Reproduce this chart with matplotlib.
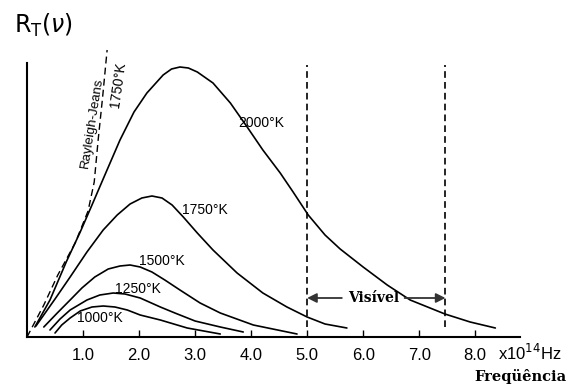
import matplotlib
matplotlib.use('Agg')
import matplotlib.pyplot as plt

# curvas de corpo negro, x em 10^14 Hz, y em unidades arbitrarias
x_2000 = [0.14, 0.41, 0.70, 0.95, 1.16, 1.39, 1.66, 1.91, 2.14, 2.43, 2.58, 2.73, 2.88, 3.04, 3.32, 3.63, 3.93,
          4.21, 4.52, 4.75, 5.02, 5.32, 5.59, 6.00, 6.43, 6.84, 7.46, 7.91, 8.36]
y_2000 = [1.0, 3.7, 7.5, 10.5, 13.2, 16.2, 19.7, 22.5, 24.4, 26.2, 26.8, 27.0, 26.9, 26.5, 25.4, 23.4, 21.0,
          18.7, 16.4, 14.5, 12.2, 10.2, 8.8, 7.0, 5.2, 3.7, 2.3, 1.5, 0.9]

x_1750 = [0.16, 0.50, 0.77, 1.07, 1.36, 1.61, 1.84, 2.05, 2.23, 2.41, 2.59, 2.79, 3.04, 3.32,
          3.75, 4.21, 4.64, 5.00, 5.32, 5.71]
y_1750 = [1.1, 3.8, 6.0, 8.5, 10.7, 12.2, 13.3, 13.9, 14.1, 13.9, 13.2, 12.0, 10.4, 8.7,
          6.4, 4.4, 3.0, 2.0, 1.3, 0.9]

x_1500 = [0.30, 0.54, 0.77, 0.98, 1.21, 1.45, 1.66, 1.84, 2.02, 2.23, 2.46, 2.73, 3.09, 3.45, 4.04, 4.82]
y_1500 = [1.0, 2.4, 3.7, 4.9, 6.0, 6.8, 7.1, 7.2, 7.0, 6.5, 5.7, 4.7, 3.4, 2.4, 1.2, 0.3]

x_1250 = [0.41, 0.59, 0.77, 1.07, 1.30, 1.54, 1.75, 2.02, 2.38, 2.64, 3.00, 3.45, 3.86]
y_1250 = [0.7, 1.8, 2.7, 3.7, 4.2, 4.4, 4.3, 3.9, 3.0, 2.4, 1.6, 1.0, 0.5]

x_1000 = [0.50, 0.62, 0.77, 0.95, 1.16, 1.36, 1.57, 1.79, 2.02, 2.38, 2.86, 3.45]
y_1000 = [0.4, 1.2, 1.9, 2.6, 3.0, 3.1, 3.0, 2.7, 2.2, 1.7, 0.9, 0.3]

# Rayleigh-Jeans (1750 K)
x_rj = [0.0, 0.30, 0.55, 0.86, 1.09, 1.20, 1.27, 1.35, 1.43]
y_rj = [0.0, 3.2, 6.2, 9.4, 12.6, 15.5, 19.7, 24.0, 28.7]

vis_min, vis_max = 5.0, 7.47
xticks = [1, 2, 3, 4, 5, 6, 7, 8]
xtick_labels = ['1.0', '2.0', '3.0', '4.0', '5.0', '6.0', '7.0', '8.0']

narrow = ['Liberation Sans Narrow', 'Liberation Sans', 'DejaVu Sans']

fig = plt.figure(figsize=(5.68, 3.85), dpi=100, facecolor='white')
ax = fig.add_axes([27 / 568, 48 / 385, 493 / 568, 274 / 385])
ax.set_xlim(0, 8.8)
ax.set_ylim(0, 27.4)

lw = 1.2
for xs, ys in [(x_2000, y_2000), (x_1750, y_1750), (x_1500, y_1500), (x_1250, y_1250), (x_1000, y_1000)]:
    ax.plot(xs, ys, color='black', lw=lw, solid_capstyle='round', solid_joinstyle='round', clip_on=False)

ax.plot(x_rj, y_rj, color='black', lw=1.0, linestyle=(0, (5, 3)), clip_on=False)

# faixa visivel
for xv in [vis_min, vis_max]:
    ax.plot([xv, xv], [1.0, 27.2], color='black', lw=1.2, linestyle=(0, (4, 2.5)))

ax.annotate('', xy=(vis_min, 3.9), xytext=(5.62, 3.9),
            arrowprops=dict(arrowstyle='-|>', color='#333333', lw=1.3, mutation_scale=14, shrinkA=0, shrinkB=0))
ax.annotate('', xy=(vis_max, 3.9), xytext=(6.74, 3.9),
            arrowprops=dict(arrowstyle='-|>', color='#333333', lw=1.3, mutation_scale=14, shrinkA=0, shrinkB=0))
ax.text(6.18, 3.9, 'Visível', fontsize=10, fontweight='bold', family='DejaVu Serif',
        ha='center', va='center')

# rotulos das curvas
lab = dict(fontsize=10, family=narrow, ha='center', va='center')
ax.text(4.18, 21.4, '2000°K', **lab)
ax.text(3.18, 12.7, '1750°K', **lab)
ax.text(2.40, 7.6, '1500°K', **lab)
ax.text(1.98, 4.8, '1250°K', **lab)
ax.text(1.30, 1.9, '1000°K', **lab)
ax.text(1.17, 21.4, 'Rayleigh-Jeans', rotation=81, fontsize=9.5, family=narrow, ha='center', va='center')
ax.text(1.62, 25.2, '1750°K', rotation=82, fontsize=10, family=narrow, ha='center', va='center', clip_on=False)

# eixos
for s in ['top', 'right']:
    ax.spines[s].set_visible(False)
ax.spines['left'].set_linewidth(1.5)
ax.spines['bottom'].set_linewidth(1.5)
ax.set_yticks([])
ax.set_xticks(xticks)
ax.set_xticklabels(xtick_labels, family=narrow, fontsize=12)
ax.tick_params(axis='x', direction='in', length=5, width=1, pad=8)

ax.text(8.4, -1.6, 'x10$^{14}$Hz', fontsize=12, family=narrow, ha='left', va='center', clip_on=False)
fig.text(566 / 568, 1 - 376 / 385, 'Freqüência', fontsize=10.5, fontweight='bold', family='DejaVu Serif',
         ha='right', va='center')
fig.text(14 / 568, 1 - 25 / 385, r'R$_\mathregular{T}$($\nu$)', fontsize=17, family='DejaVu Sans',
         ha='left', va='center')

fig.savefig('out.png', dpi=100, facecolor='white')
